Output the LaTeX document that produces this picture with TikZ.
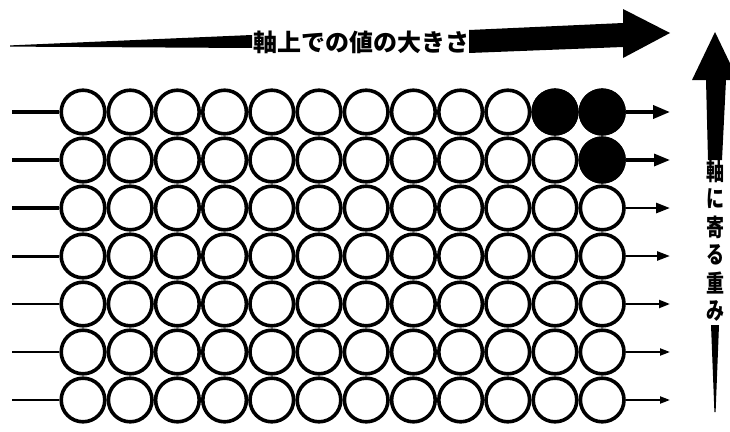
\documentclass[tikz,border=0pt]{standalone}
\usepackage{fontspec}
\usepackage{tikz}
\usetikzlibrary{arrows.meta}
\newfontfamily\jpfont{Noto Sans CJK JP}

\begin{document}
\begin{tikzpicture}[x=1pt,y=-1pt,
  ball/.style={circle,draw,line width=3.6pt,minimum size=43.6pt,inner sep=0pt},
  axistext/.style={font=\jpfont\bfseries\fontsize{24}{24}\selectfont,inner sep=0pt},
  sidetext/.style={font=\jpfont\bfseries\fontsize{24}{24}\selectfont,inner sep=0pt,xscale=0.75}]
  \useasboundingbox (0,0) rectangle (730,431);
  \foreach \r in {1,...,7}{
    \foreach \c in {1,...,12}{
      \node[ball] (b-\r-\c) at ({83+47.2*(\c-1)},{112+48*(\r-1)}) {};
    }
  }
  \foreach \r/\c in {1/11,1/12,2/12}
    \fill (b-\r-\c.center) circle (23.6);
  \foreach \r/\w in {1/4.6,2/4,3/3.4,4/3,5/2.5,6/2.2,7/2.2}{
    \coordinate (l-\r) at (12,{112+48*(\r-1)});
    \draw[line width=\w pt] (l-\r) -- (b-\r-1);
  }
  \foreach \r/\w/\h/\d in {1/3.6/17/13,2/3.2/16/12,3/2.8/14/10,4/2.5/13/9,5/2.2/11/8,6/2/10/7,7/2/10/7}{
    \coordinate (r-\r) at (670,{112+48*(\r-1)});
    \draw[line width=\w pt,-{Triangle[length=\h pt,width=\d pt]}] (b-\r-12) -- (r-\r);
  }
  \node[axistext] (top) at (361,42) {軸上での値の大きさ};
  \fill (10,45.4) -- (252,35) -- (252,48) -- (10,46.6) -- cycle;
  \fill (469,30) -- (623,23) -- (623,9) -- (670,33) -- (623,58) -- (623,47) -- (469,53) -- cycle;
  \fill (715,32) -- (738,80) -- (726,80) -- (722,160) -- (708,160) -- (706,80) -- (692,80) -- cycle;
  \foreach \ch [count=\i] in {軸,に,寄,る,重,み}
    \node[sidetext] (s-\i) at (715,{171+28*(\i-1)}) {\ch};
  \fill (711,325) -- (719,325) -- (715.6,412) -- (714.4,412) -- cycle;
\end{tikzpicture}
\end{document}
